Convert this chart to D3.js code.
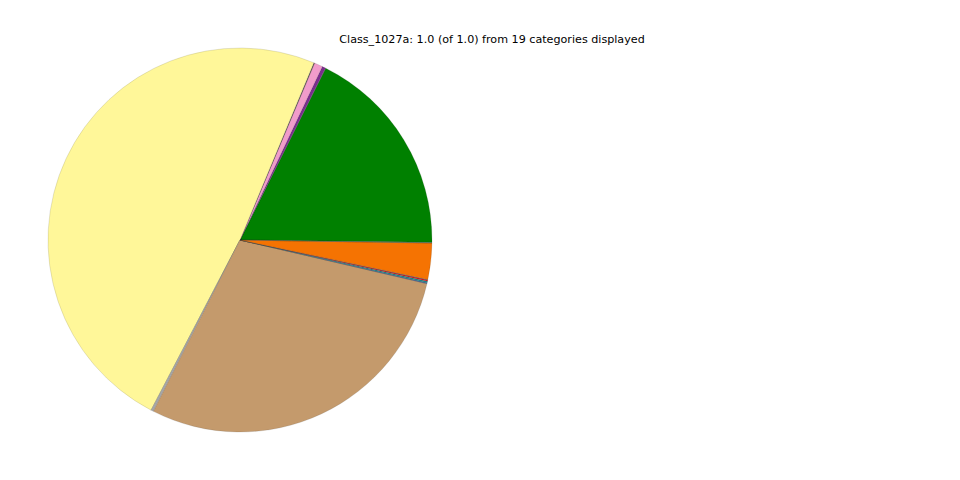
<!DOCTYPE html>
<html><head><meta charset="utf-8">
<script src="https://cdn.jsdelivr.net/npm/d3@7"></script>
<style>body{margin:0;background:#fff}svg{display:block}</style>
</head><body>
<svg id="c" width="960" height="480"></svg>
<script>
const title = "Class_1027a: 1.0 (of 1.0) from 19 categories displayed";
const categories = ["C01","C02","C03","C04","C05","C06","C07","C08","C09","C10","C11","C12","C13","C14","C15","C16","C17","C18","C19"];
const values = [0.1786,0.0002,0.0030,0.0070,0.0002,0.0005,0.4870,0.0002,0.0020,0.2885,0.0002,0.0005,0.0014,0.0010,0.0002,0.0002,0.0305,0.0002,0.0004];
const colors = ["#008000","#2b6b2b","#7b2d8e","#f19ccb","#a05a2c","#3a3a3a","#fff799","#dddddd","#a8a8a8","#c49a6c","#555555","#3b5ba8","#1c8a8a","#e41a1c","#6a3d9a","#b15928","#f57302","#33a02c","#4a6a4a"];
const startDeg = -0.7; // matplotlib-style angle (ccw from 3 o'clock)

const svg = d3.select("#c");
const cx = 240, cy = 240, r = 192;
const a0 = (90 - startDeg) * Math.PI / 180;
const pie = d3.pie().sort(null).value(d => d.v).startAngle(a0).endAngle(a0 - 2 * Math.PI);
const arc = d3.arc().innerRadius(0).outerRadius(r);
const data = categories.map((c, i) => ({c, v: values[i], col: colors[i]}));
const g = svg.append("g").attr("transform", `translate(${cx},${cy})`);
g.selectAll("path").data(pie(data)).join("path")
  .attr("d", arc)
  .attr("fill", d => d.data.col)
  .attr("stroke", "rgba(60,60,60,0.35)")
  .attr("stroke-width", 0.4)
  .attr("stroke-linejoin", "round");
svg.append("text").attr("x", 492).attr("y", 43).attr("text-anchor", "middle")
  .attr("font-family", "DejaVu Sans").attr("font-size", 11.15).attr("fill", "#000").text(title);
</script>
</body></html>
